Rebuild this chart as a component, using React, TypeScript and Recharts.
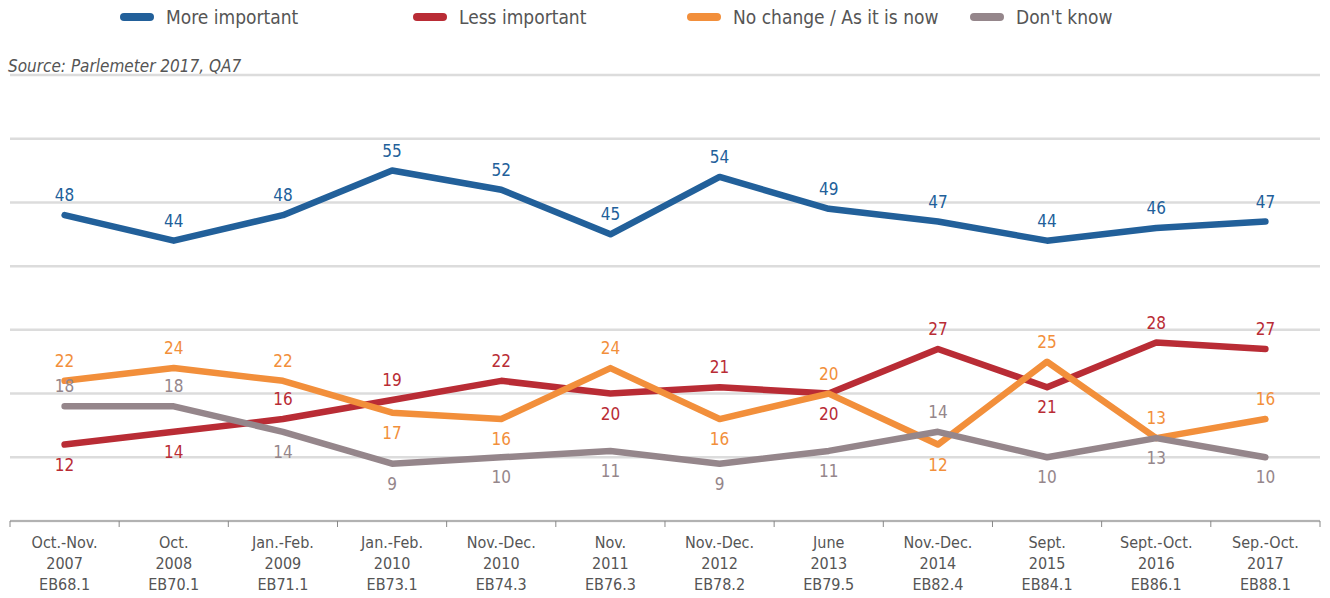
import { LineChart, Line, XAxis, YAxis, CartesianGrid, LabelList } from "recharts";

const periods = [
  "Oct.-Nov.|2007|EB68.1",
  "Oct.|2008|EB70.1",
  "Jan.-Feb.|2009|EB71.1",
  "Jan.-Feb.|2010|EB73.1",
  "Nov.-Dec.|2010|EB74.3",
  "Nov.|2011|EB76.3",
  "Nov.-Dec.|2012|EB78.2",
  "June|2013|EB79.5",
  "Nov.-Dec.|2014|EB82.4",
  "Sept.|2015|EB84.1",
  "Sept.-Oct.|2016|EB86.1",
  "Sep.-Oct.|2017|EB88.1",
];

const moreImportant = [48, 44, 48, 55, 52, 45, 54, 49, 47, 44, 46, 47];
const lessImportant = [12, 14, 16, 19, 22, 20, 21, 20, 27, 21, 28, 27];
const noChange = [22, 24, 22, 17, 16, 24, 16, 20, 12, 25, 13, 16];
const dontKnow = [18, 18, 14, 9, 10, 11, 9, 11, 14, 10, 13, 10];

const yTicks = [0, 10, 20, 30, 40, 50, 60, 70];

// label placement: 1 = above the point, -1 = below
const morePos = [1, 1, 1, 1, 1, 1, 1, 1, 1, 1, 1, 1];
const lessPos = [-1, -1, 1, 1, 1, -1, 1, -1, 1, -1, 1, 1];
const noChangePos = [1, 1, 1, -1, -1, 1, -1, 1, -1, 1, 1, 1];
const dkPos = [1, 1, -1, -1, -1, -1, -1, -1, 1, -1, -1, -1];

const data = periods.map((p, i) => ({
  period: p,
  more: moreImportant[i],
  less: lessImportant[i],
  nochange: noChange[i],
  dk: dontKnow[i],
}));

const FONT = '"Liberation Sans Narrow", "DejaVu Sans Condensed", "Roboto", sans-serif';
const BLUE = "#22609a";
const RED = "#b92c35";
const ORANGE = "#f28f3b";
const GRAY = "#95868b";
const HALF_BAND = 54.6;

const series = [
  { key: "more", name: "More important", color: BLUE, pos: morePos },
  { key: "less", name: "Less important", color: RED, pos: lessPos },
  { key: "nochange", name: "No change / As it is now", color: ORANGE, pos: noChangePos },
  { key: "dk", name: "Don't know", color: GRAY, pos: dkPos },
];

const legendX = [120, 413, 687, 970];

function makeLabel(color: string, pos: number[]) {
  return (props: any) => {
    const { x, y, value, index } = props;
    const dy = pos[index] > 0 ? -14 : 26;
    return (
      <text x={x} y={y + dy} textAnchor="middle" fill={color} fontSize={17} fontFamily={FONT}>
        {value}
      </text>
    );
  };
}

function PeriodTick(props: any) {
  const { x, y, payload, index } = props;
  const lines = String(payload.value).split("|");
  return (
    <g>
      <line x1={x - HALF_BAND} x2={x - HALF_BAND} y1={y} y2={y + 6} stroke="#888" strokeWidth={1} />
      {index === periods.length - 1 && (
        <line x1={x + HALF_BAND} x2={x + HALF_BAND} y1={y} y2={y + 6} stroke="#888" strokeWidth={1} />
      )}
      <text x={x} y={y + 27} textAnchor="middle" fill="#555" fontSize={16} fontFamily={FONT}>
        {lines.map((l, i) => (
          <tspan key={i} x={x} dy={i === 0 ? 0 : 21}>
            {l}
          </tspan>
        ))}
      </text>
    </g>
  );
}

export default function App() {
  return (
    <div style={{ position: "absolute", left: 0, top: 0, width: 1330, height: 598, background: "#fff" }}>
      {series.map((s, i) => (
        <div
          key={s.key}
          style={{
            position: "absolute",
            left: legendX[i],
            top: 6,
            display: "flex",
            alignItems: "center",
            fontFamily: FONT,
            fontSize: 19,
            color: "#555",
          }}
        >
          <span
            style={{
              display: "inline-block",
              width: 34,
              height: 8,
              borderRadius: 4,
              background: s.color,
              marginRight: 12,
            }}
          />
          {s.name}
        </div>
      ))}
      <div
        style={{
          position: "absolute",
          left: 8,
          top: 56,
          fontFamily: FONT,
          fontStyle: "italic",
          fontSize: 17,
          color: "#555",
        }}
      >
        Source: Parlemeter 2017, QA7
      </div>
      <LineChart width={1330} height={598} data={data} margin={{ top: 75, right: 10, left: 10, bottom: 0 }}>
        <CartesianGrid horizontal vertical={false} stroke="#dcdcdc" strokeWidth={2.5} />
        <XAxis
          dataKey="period"
          interval={0}
          padding={{ left: HALF_BAND, right: HALF_BAND }}
          height={77}
          tickLine={false}
          tickSize={0}
          tickMargin={0}
          axisLine={{ stroke: "#888", strokeWidth: 1 }}
          tick={<PeriodTick />}
        />
        <YAxis hide domain={[0, 70]} ticks={yTicks} />
        {series.map((s) => (
          <Line
            key={s.key}
            dataKey={s.key}
            name={s.name}
            stroke={s.color}
            strokeWidth={6.5}
            strokeLinecap="round"
            strokeLinejoin="round"
            dot={false}
            activeDot={false}
            isAnimationActive={false}
          >
            <LabelList dataKey={s.key} content={makeLabel(s.color, s.pos)} />
          </Line>
        ))}
      </LineChart>
    </div>
  );
}
